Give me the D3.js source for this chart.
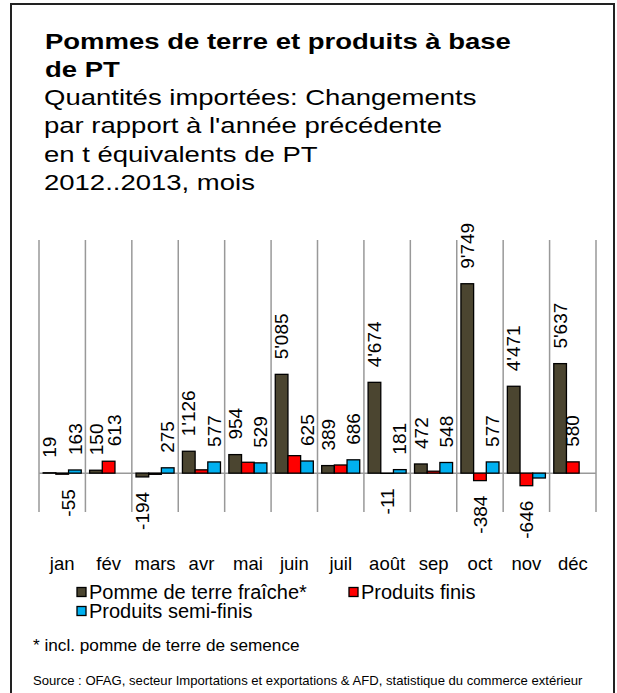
<!DOCTYPE html>
<html>
<head>
    <meta charset="utf-8">
    <script src="https://d3js.org/d3.v7.min.js"></script>
    <style>
        body { margin: 0; background: #fff; }
        text { font-family: Arial, "Liberation Sans", sans-serif; fill: #000; }
        .title { font-size: 22px; font-weight: bold; }
        .sub { font-size: 22px; }
        .lbl { font-size: 19px; }
        .month { font-size: 18.5px; }
        .leg { font-size: 20px; }
        .note { font-size: 17.2px; }
        .src { font-size: 13.1px; }
    </style>
</head>
<body>
    <svg width="617" height="693"></svg>
    <script>
        // data
        var months = ["jan", "fév", "mars", "avr", "mai", "juin", "juil", "août", "sep", "oct", "nov", "déc"];
        var fraiche = [19, 150, -194, 1126, 954, 5085, 389, 4674, 472, 9749, 4471, 5637];
        var finis = [-55, 613, -60, 170, 560, 900, 420, -11, 100, -384, -646, 580];
        var semiFinis = [163, 0, 275, 577, 529, 625, 686, 181, 548, 577, -250, 0];
        // which value labels are printed in the original
        var showFraiche = [1, 1, 1, 1, 1, 1, 1, 1, 1, 1, 1, 1];
        var showFinis = [1, 1, 0, 0, 0, 0, 0, 1, 0, 1, 1, 1];
        var showSemi = [1, 0, 1, 1, 1, 1, 1, 1, 1, 1, 0, 0];

        var seriesNames = ["Pomme de terre fraîche*", "Produits finis", "Produits semi-finis"];
        var colors = ["#4b4530", "#ff0000", "#00b0f0"];

        var svg = d3.select("svg");

        // outer frame
        svg.append("rect")
            .attr("x", 11).attr("y", 4)
            .attr("width", 603).attr("height", 720)
            .attr("fill", "none")
            .attr("stroke", "#222")
            .attr("stroke-width", 2);

        // title block (the original text is drawn a bit wide)
        var titleLines = ["Pommes de terre et produits à base", "de PT"];
        var subLines = ["Quantités importées: Changements", "par rapport à l'année précédente",
            "en t équivalents de PT", "2012..2013, mois"];
        svg.selectAll(".title").data(titleLines).enter().append("text")
            .attr("class", "title")
            .attr("transform", (d, i) => "translate(45," + (49 + i * 28) + ") scale(1.25,1)")
            .text(d => d);
        svg.selectAll(".sub").data(subLines).enter().append("text")
            .attr("class", "sub")
            .attr("transform", (d, i) => "translate(44," + (105 + i * 28.4) + ") scale(1.25,1)")
            .text(d => d);

        // scales
        var x = d3.scaleBand().domain(months).range([39, 596]).padding(0);
        var xs = d3.scaleBand().domain([0, 1, 2]).range([0, x.bandwidth()]).paddingInner(0).paddingOuter(0.33);
        var y = d3.scaleLinear().domain([-2000, 12000]).range([512, 240]);

        // vertical gridlines at category boundaries
        var bounds = months.map(m => x(m)).concat([x.range()[1]]);
        svg.append("g").selectAll("line").data(bounds).enter().append("line")
            .attr("x1", d => d).attr("x2", d => d)
            .attr("y1", y.range()[1]).attr("y2", y.range()[0])
            .attr("stroke", "#999")
            .attr("stroke-width", 1.5);

        svg.append("line")
            .attr("x1", x.range()[0]).attr("x2", x.range()[1])
            .attr("y1", y(0)).attr("y2", y(0))
            .attr("stroke", "#999")
            .attr("stroke-width", 1.5);

        var series = [fraiche, finis, semiFinis];
        var shows = [showFraiche, showFinis, showSemi];
        var fmt = d3.formatLocale({ decimal: ".", thousands: "'", grouping: [3], currency: ["", ""], minus: "-" }).format(",d");

        // the first two "Produits finis" labels sit a little right of their bars
        function nudge(s, i) { return (s === 1 && i < 2) ? 6 : 0; }

        series.forEach(function (vals, s) {
            var rows = vals.map((v, i) => ({ m: months[i], i: i, v: v, show: shows[s][i] }));

            svg.append("g").selectAll("rect").data(rows).enter().append("rect")
                .attr("x", d => x(d.m) + xs(s))
                .attr("width", xs.bandwidth())
                .attr("y", d => y(Math.max(0, d.v)))
                .attr("height", d => Math.abs(y(d.v) - y(0)))
                .attr("fill", colors[s])
                .attr("stroke", "#000")
                .attr("stroke-width", 1.3);

            svg.append("g").selectAll("text").data(rows.filter(d => d.show)).enter().append("text")
                .attr("class", "lbl")
                .attr("transform", function (d) {
                    var cx = x(d.m) + xs(s) + xs.bandwidth() / 2 + nudge(s, d.i);
                    var cy = d.v >= 0 ? y(d.v) - 15 : y(d.v) + 15;
                    return "translate(" + cx + "," + cy + ") rotate(-90)";
                })
                .attr("dy", "0.35em")
                .attr("text-anchor", d => d.v >= 0 ? "start" : "end")
                .text(d => fmt(d.v));
        });

        // month labels
        svg.append("g").selectAll("text").data(months).enter().append("text")
            .attr("class", "month")
            .attr("x", d => x(d) + x.bandwidth() / 2)
            .attr("y", 570)
            .attr("text-anchor", "middle")
            .text(d => d);

        // legend
        var legPos = [[77, 592], [349, 592], [77, 611]];
        var leg = svg.append("g").selectAll("g").data(seriesNames).enter().append("g")
            .attr("transform", (d, i) => "translate(" + legPos[i][0] + "," + legPos[i][1] + ")");
        leg.append("rect")
            .attr("x", 0).attr("y", -4.5)
            .attr("width", 9).attr("height", 9)
            .attr("fill", (d, i) => colors[i])
            .attr("stroke", "#000")
            .attr("stroke-width", 1.3);
        leg.append("text")
            .attr("class", "leg")
            .attr("x", 12)
            .attr("y", 7)
            .text(d => d);

        svg.append("text").attr("class", "note")
            .attr("x", 33).attr("y", 651)
            .text("* incl. pomme de terre de semence");

        svg.append("text").attr("class", "src")
            .attr("x", 33).attr("y", 685)
            .text("Source : OFAG, secteur Importations et exportations & AFD, statistique du commerce extérieur");
    </script>
</body>
</html>
